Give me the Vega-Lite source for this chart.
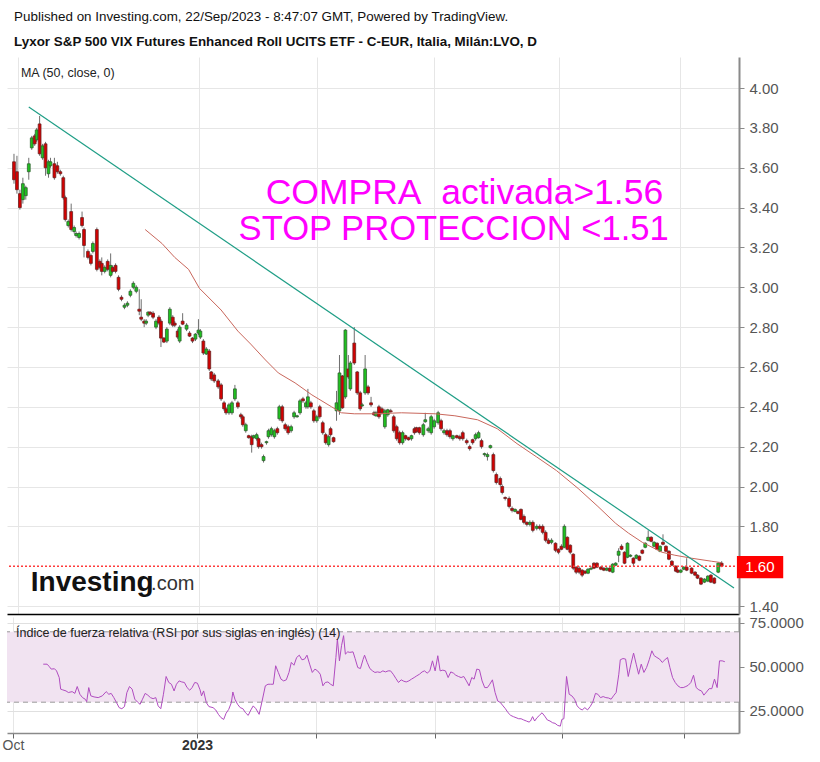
{
"$schema":"https://vega.github.io/schema/vega-lite/v6.json",
"background":"white",
"padding":{"left":2,"right":0,"top":10,"bottom":4},
"title":{"text":"Published on Investing.com, 22/Sep/2023 - 8:47:07 GMT, Powered by TradingView.","subtitle":"Lyxor S&P 500 VIX Futures Enhanced Roll UCITS ETF - C-EUR, Italia, Milán:LVO, D","anchor":"start","dx":12,"font":"Liberation Sans","fontSize":13.4,"fontWeight":"normal","color":"#111","subtitleFont":"Liberation Sans","subtitleFontSize":13.4,"subtitleFontWeight":"bold","subtitleColor":"#111","subtitlePadding":11,"offset":9},
"config":{"view":{"stroke":null},"font":"Liberation Sans","axis":{"labelFont":"Liberation Sans"}},
"spacing":0,
"datasets":{
"candles":[
{"t":0,"o":3.63,"h":3.67,"l":3.52,"c":3.54},{"t":1.02,"o":3.58,"h":3.66,"l":3.47,"c":3.49},{"t":2.03,"o":3.47,"h":3.49,"l":3.39,"c":3.40},{"t":3.05,"o":3.44,"h":3.55,"l":3.42,"c":3.52},{"t":4.06,"o":3.46,"h":3.51,"l":3.44,"c":3.50},{"t":5.08,"o":3.58,"h":3.65,"l":3.54,"c":3.62},{"t":6.10,"o":3.70,"h":3.76,"l":3.69,"c":3.75},{"t":7.11,"o":3.76,"h":3.77,"l":3.71,"c":3.72},{"t":7.79,"o":3.74,"h":3.80,"l":3.73,"c":3.79},{"t":8.80,"o":3.82,"h":3.86,"l":3.66,"c":3.67},
{"t":9.82,"o":3.65,"h":3.72,"l":3.64,"c":3.71},{"t":10.84,"o":3.72,"h":3.73,"l":3.56,"c":3.60},{"t":11.85,"o":3.57,"h":3.64,"l":3.55,"c":3.63},{"t":12.53,"o":3.61,"h":3.65,"l":3.60,"c":3.63},{"t":13.88,"o":3.62,"h":3.65,"l":3.54,"c":3.55},{"t":14.90,"o":3.61,"h":3.63,"l":3.57,"c":3.58},{"t":15.92,"o":3.58,"h":3.59,"l":3.56,"c":3.57},{"t":16.93,"o":3.55,"h":3.56,"l":3.44,"c":3.45},{"t":17.61,"o":3.45,"h":3.46,"l":3.33,"c":3.34},{"t":18.63,"o":3.31,"h":3.34,"l":3.30,"c":3.33},
{"t":19.64,"o":3.38,"h":3.42,"l":3.28,"c":3.29},{"t":20.66,"o":3.28,"h":3.31,"l":3.27,"c":3.30},{"t":21.33,"o":3.26,"h":3.28,"l":3.25,"c":3.27},{"t":22.35,"o":3.25,"h":3.28,"l":3.24,"c":3.27},{"t":23.37,"o":3.35,"h":3.38,"l":3.30,"c":3.31},{"t":24.04,"o":3.29,"h":3.30,"l":3.15,"c":3.21},{"t":25.40,"o":3.18,"h":3.19,"l":3.14,"c":3.15},{"t":26.41,"o":3.16,"h":3.17,"l":3.11,"c":3.12},{"t":27.09,"o":3.18,"h":3.23,"l":3.17,"c":3.22},{"t":28.45,"o":3.29,"h":3.30,"l":3.08,"c":3.09},
{"t":29.46,"o":3.13,"h":3.14,"l":3.09,"c":3.10},{"t":30.14,"o":3.12,"h":3.15,"l":3.06,"c":3.08},{"t":31.15,"o":3.08,"h":3.11,"l":3.07,"c":3.10},{"t":32.17,"o":3.13,"h":3.14,"l":3.08,"c":3.09},{"t":33.19,"o":3.06,"h":3.17,"l":3.05,"c":3.11},{"t":33.86,"o":3.10,"h":3.11,"l":3.07,"c":3.08},{"t":34.88,"o":3.11,"h":3.12,"l":3.07,"c":3.08},{"t":35.90,"o":3.05,"h":3.06,"l":2.98,"c":2.99},{"t":36.91,"o":2.95,"h":2.96,"l":2.93,"c":2.94},{"t":37.93,"o":2.90,"h":2.92,"l":2.89,"c":2.91},
{"t":38.94,"o":2.91,"h":2.93,"l":2.90,"c":2.92},{"t":39.96,"o":2.96,"h":2.99,"l":2.95,"c":2.98},{"t":40.98,"o":3.00,"h":3.03,"l":2.99,"c":3.02},{"t":41.99,"o":2.98,"h":3.01,"l":2.97,"c":3.00},{"t":43.01,"o":2.89,"h":2.99,"l":2.86,"c":2.88},{"t":43.68,"o":2.85,"h":2.94,"l":2.83,"c":2.84},{"t":44.70,"o":2.83,"h":2.84,"l":2.80,"c":2.82},{"t":45.38,"o":2.82,"h":2.84,"l":2.81,"c":2.83},{"t":46.06,"o":2.86,"h":2.88,"l":2.85,"c":2.875},{"t":46.73,"o":2.875,"h":2.88,"l":2.86,"c":2.865},
{"t":47.75,"o":2.87,"h":2.88,"l":2.84,"c":2.85},{"t":48.76,"o":2.80,"h":2.84,"l":2.79,"c":2.83},{"t":49.78,"o":2.85,"h":2.86,"l":2.81,"c":2.82},{"t":50.46,"o":2.83,"h":2.84,"l":2.70,"c":2.745},{"t":51.47,"o":2.745,"h":2.75,"l":2.72,"c":2.725},{"t":52.49,"o":2.73,"h":2.80,"l":2.72,"c":2.79},{"t":53.51,"o":2.82,"h":2.90,"l":2.81,"c":2.89},{"t":54.52,"o":2.85,"h":2.86,"l":2.80,"c":2.81},{"t":55.20,"o":2.82,"h":2.83,"l":2.80,"c":2.81},{"t":56.21,"o":2.78,"h":2.79,"l":2.74,"c":2.75},
{"t":56.89,"o":2.73,"h":2.81,"l":2.72,"c":2.80},{"t":57.91,"o":2.83,"h":2.87,"l":2.81,"c":2.815},{"t":59.26,"o":2.79,"h":2.82,"l":2.78,"c":2.81},{"t":60.28,"o":2.77,"h":2.78,"l":2.75,"c":2.755},{"t":61.29,"o":2.745,"h":2.75,"l":2.72,"c":2.73},{"t":62.31,"o":2.74,"h":2.77,"l":2.73,"c":2.765},{"t":63.33,"o":2.77,"h":2.84,"l":2.76,"c":2.785},{"t":64.00,"o":2.75,"h":2.79,"l":2.74,"c":2.78},{"t":65.02,"o":2.73,"h":2.74,"l":2.66,"c":2.67},{"t":66.03,"o":2.665,"h":2.70,"l":2.66,"c":2.69},
{"t":67.05,"o":2.68,"h":2.69,"l":2.58,"c":2.59},{"t":67.73,"o":2.575,"h":2.58,"l":2.53,"c":2.54},{"t":68.74,"o":2.56,"h":2.57,"l":2.52,"c":2.53},{"t":70.10,"o":2.53,"h":2.54,"l":2.49,"c":2.50},{"t":71.11,"o":2.51,"h":2.52,"l":2.43,"c":2.44},{"t":72.13,"o":2.42,"h":2.43,"l":2.38,"c":2.39},{"t":72.81,"o":2.39,"h":2.40,"l":2.36,"c":2.37},{"t":73.82,"o":2.37,"h":2.42,"l":2.36,"c":2.41},{"t":74.84,"o":2.37,"h":2.43,"l":2.36,"c":2.42},{"t":75.85,"o":2.44,"h":2.51,"l":2.43,"c":2.49},
{"t":76.87,"o":2.42,"h":2.43,"l":2.39,"c":2.40},{"t":77.89,"o":2.36,"h":2.37,"l":2.34,"c":2.35},{"t":78.56,"o":2.35,"h":2.36,"l":2.30,"c":2.31},{"t":79.58,"o":2.28,"h":2.32,"l":2.27,"c":2.31},{"t":80.60,"o":2.255,"h":2.26,"l":2.24,"c":2.245},{"t":81.61,"o":2.25,"h":2.26,"l":2.17,"c":2.21},{"t":82.29,"o":2.245,"h":2.26,"l":2.24,"c":2.255},{"t":83.31,"o":2.24,"h":2.27,"l":2.23,"c":2.26},{"t":83.98,"o":2.24,"h":2.25,"l":2.19,"c":2.20},{"t":85.00,"o":2.21,"h":2.22,"l":2.19,"c":2.20},
{"t":85.68,"o":2.13,"h":2.16,"l":2.12,"c":2.15},{"t":86.69,"o":2.22,"h":2.23,"l":2.21,"c":2.225},{"t":87.37,"o":2.25,"h":2.29,"l":2.24,"c":2.28},{"t":88.38,"o":2.26,"h":2.30,"l":2.25,"c":2.29},{"t":89.40,"o":2.25,"h":2.29,"l":2.24,"c":2.28},{"t":90.42,"o":2.29,"h":2.30,"l":2.26,"c":2.27},{"t":91.09,"o":2.34,"h":2.41,"l":2.33,"c":2.40},{"t":92.11,"o":2.40,"h":2.41,"l":2.32,"c":2.33},{"t":93.13,"o":2.31,"h":2.32,"l":2.28,"c":2.29},{"t":94.14,"o":2.30,"h":2.31,"l":2.26,"c":2.27},
{"t":95.16,"o":2.28,"h":2.31,"l":2.27,"c":2.30},{"t":96.17,"o":2.35,"h":2.38,"l":2.34,"c":2.37},{"t":97.19,"o":2.35,"h":2.36,"l":2.345,"c":2.355},{"t":98.21,"o":2.37,"h":2.44,"l":2.36,"c":2.43},{"t":99.22,"o":2.44,"h":2.45,"l":2.42,"c":2.43},{"t":100.24,"o":2.40,"h":2.43,"l":2.39,"c":2.42},{"t":100.91,"o":2.40,"h":2.49,"l":2.39,"c":2.45},{"t":101.93,"o":2.42,"h":2.43,"l":2.39,"c":2.40},{"t":102.95,"o":2.38,"h":2.39,"l":2.32,"c":2.33},{"t":103.96,"o":2.33,"h":2.36,"l":2.32,"c":2.35},
{"t":104.98,"o":2.40,"h":2.41,"l":2.34,"c":2.35},{"t":106.00,"o":2.32,"h":2.33,"l":2.26,"c":2.27},{"t":107.01,"o":2.26,"h":2.27,"l":2.21,"c":2.22},{"t":108.03,"o":2.21,"h":2.26,"l":2.20,"c":2.25},{"t":108.70,"o":2.29,"h":2.30,"l":2.25,"c":2.26},{"t":109.72,"o":2.245,"h":2.25,"l":2.22,"c":2.225},{"t":110.74,"o":2.38,"h":2.48,"l":2.33,"c":2.42},{"t":111.75,"o":2.38,"h":2.66,"l":2.36,"c":2.57},{"t":112.77,"o":2.555,"h":2.56,"l":2.39,"c":2.395},{"t":113.78,"o":2.45,"h":2.79,"l":2.44,"c":2.785},
{"t":114.80,"o":2.59,"h":2.66,"l":2.54,"c":2.55},{"t":115.48,"o":2.49,"h":2.63,"l":2.48,"c":2.62},{"t":116.83,"o":2.72,"h":2.80,"l":2.61,"c":2.62},{"t":117.85,"o":2.575,"h":2.58,"l":2.46,"c":2.47},{"t":118.86,"o":2.47,"h":2.48,"l":2.38,"c":2.39},{"t":119.54,"o":2.405,"h":2.42,"l":2.40,"c":2.41},{"t":120.56,"o":2.47,"h":2.66,"l":2.46,"c":2.59},{"t":121.57,"o":2.50,"h":2.51,"l":2.46,"c":2.47},{"t":122.59,"o":2.42,"h":2.45,"l":2.40,"c":2.41},{"t":123.60,"o":2.37,"h":2.38,"l":2.355,"c":2.36},
{"t":124.28,"o":2.355,"h":2.38,"l":2.35,"c":2.37},{"t":125.30,"o":2.40,"h":2.41,"l":2.34,"c":2.35},{"t":126.31,"o":2.39,"h":2.40,"l":2.36,"c":2.37},{"t":127.33,"o":2.30,"h":2.39,"l":2.29,"c":2.38},{"t":128.34,"o":2.36,"h":2.39,"l":2.35,"c":2.385},{"t":129.36,"o":2.38,"h":2.39,"l":2.37,"c":2.375},{"t":130.38,"o":2.35,"h":2.36,"l":2.27,"c":2.28},{"t":131.39,"o":2.30,"h":2.31,"l":2.23,"c":2.24},{"t":132.41,"o":2.27,"h":2.28,"l":2.21,"c":2.22},{"t":133.42,"o":2.22,"h":2.28,"l":2.21,"c":2.27},
{"t":134.44,"o":2.255,"h":2.26,"l":2.23,"c":2.24},{"t":135.46,"o":2.245,"h":2.25,"l":2.23,"c":2.235},{"t":136.47,"o":2.24,"h":2.26,"l":2.23,"c":2.255},{"t":137.49,"o":2.29,"h":2.30,"l":2.26,"c":2.27},{"t":138.17,"o":2.295,"h":2.30,"l":2.27,"c":2.275},{"t":139.18,"o":2.295,"h":2.30,"l":2.26,"c":2.27},{"t":140.54,"o":2.26,"h":2.32,"l":2.25,"c":2.31},{"t":141.21,"o":2.325,"h":2.37,"l":2.32,"c":2.335},{"t":142.23,"o":2.28,"h":2.30,"l":2.27,"c":2.29},{"t":143.24,"o":2.27,"h":2.36,"l":2.26,"c":2.35},
{"t":144.26,"o":2.30,"h":2.34,"l":2.29,"c":2.33},{"t":145.62,"o":2.32,"h":2.38,"l":2.31,"c":2.37},{"t":146.63,"o":2.33,"h":2.34,"l":2.28,"c":2.29},{"t":147.65,"o":2.27,"h":2.29,"l":2.26,"c":2.28},{"t":148.66,"o":2.28,"h":2.29,"l":2.25,"c":2.26},{"t":149.68,"o":2.28,"h":2.29,"l":2.24,"c":2.25},{"t":150.69,"o":2.24,"h":2.26,"l":2.23,"c":2.255},{"t":152.05,"o":2.255,"h":2.26,"l":2.24,"c":2.245},{"t":153.07,"o":2.25,"h":2.26,"l":2.23,"c":2.24},{"t":154.08,"o":2.27,"h":2.28,"l":2.23,"c":2.24},
{"t":155.44,"o":2.23,"h":2.24,"l":2.21,"c":2.22},{"t":156.45,"o":2.20,"h":2.21,"l":2.18,"c":2.19},{"t":157.47,"o":2.235,"h":2.24,"l":2.21,"c":2.22},{"t":158.48,"o":2.24,"h":2.27,"l":2.23,"c":2.26},{"t":159.50,"o":2.245,"h":2.28,"l":2.24,"c":2.27},{"t":160.52,"o":2.23,"h":2.24,"l":2.19,"c":2.20},{"t":161.53,"o":2.16,"h":2.17,"l":2.15,"c":2.165},{"t":162.55,"o":2.15,"h":2.17,"l":2.13,"c":2.16},{"t":163.56,"o":2.195,"h":2.21,"l":2.19,"c":2.205},{"t":164.58,"o":2.16,"h":2.17,"l":2.07,"c":2.08},
{"t":165.60,"o":2.06,"h":2.07,"l":2.01,"c":2.02},{"t":166.95,"o":2.04,"h":2.05,"l":2.00,"c":2.01},{"t":167.63,"o":2.00,"h":2.01,"l":1.96,"c":1.97},{"t":168.64,"o":1.945,"h":1.95,"l":1.93,"c":1.94},{"t":170.00,"o":1.94,"h":1.95,"l":1.89,"c":1.90},{"t":171.01,"o":1.89,"h":1.90,"l":1.87,"c":1.88},{"t":172.03,"o":1.875,"h":1.89,"l":1.87,"c":1.885},{"t":173.05,"o":1.875,"h":1.88,"l":1.86,"c":1.865},{"t":174.06,"o":1.885,"h":1.89,"l":1.83,"c":1.835},{"t":175.08,"o":1.85,"h":1.86,"l":1.81,"c":1.82},
{"t":176.09,"o":1.82,"h":1.825,"l":1.80,"c":1.81},{"t":177.11,"o":1.81,"h":1.83,"l":1.80,"c":1.82},{"t":178.13,"o":1.82,"h":1.83,"l":1.77,"c":1.78},{"t":179.48,"o":1.79,"h":1.81,"l":1.78,"c":1.80},{"t":180.49,"o":1.80,"h":1.81,"l":1.78,"c":1.79},{"t":181.51,"o":1.80,"h":1.81,"l":1.76,"c":1.77},{"t":182.53,"o":1.77,"h":1.78,"l":1.72,"c":1.73},{"t":183.54,"o":1.73,"h":1.74,"l":1.71,"c":1.715},{"t":184.56,"o":1.72,"h":1.74,"l":1.71,"c":1.73},{"t":185.91,"o":1.715,"h":1.72,"l":1.67,"c":1.68},
{"t":186.93,"o":1.685,"h":1.69,"l":1.66,"c":1.67},{"t":187.95,"o":1.70,"h":1.71,"l":1.68,"c":1.685},{"t":188.96,"o":1.695,"h":1.81,"l":1.69,"c":1.80},{"t":189.98,"o":1.745,"h":1.75,"l":1.68,"c":1.685},{"t":190.99,"o":1.705,"h":1.71,"l":1.66,"c":1.67},{"t":192.01,"o":1.66,"h":1.665,"l":1.58,"c":1.59},{"t":193.02,"o":1.595,"h":1.60,"l":1.56,"c":1.57},{"t":194.04,"o":1.59,"h":1.60,"l":1.56,"c":1.57},{"t":195.06,"o":1.58,"h":1.585,"l":1.545,"c":1.555},{"t":196.07,"o":1.575,"h":1.58,"l":1.56,"c":1.565},
{"t":197.09,"o":1.565,"h":1.59,"l":1.56,"c":1.585},{"t":198.10,"o":1.585,"h":1.60,"l":1.58,"c":1.59},{"t":199.12,"o":1.615,"h":1.62,"l":1.585,"c":1.59},{"t":200.14,"o":1.615,"h":1.62,"l":1.59,"c":1.595},{"t":201.49,"o":1.595,"h":1.60,"l":1.58,"c":1.585},{"t":202.51,"o":1.59,"h":1.595,"l":1.575,"c":1.58},{"t":203.52,"o":1.58,"h":1.595,"l":1.575,"c":1.59},{"t":204.54,"o":1.59,"h":1.595,"l":1.57,"c":1.575},{"t":205.55,"o":1.57,"h":1.615,"l":1.565,"c":1.61},{"t":206.57,"o":1.605,"h":1.62,"l":1.60,"c":1.615},
{"t":207.59,"o":1.655,"h":1.69,"l":1.62,"c":1.675},{"t":208.60,"o":1.70,"h":1.71,"l":1.68,"c":1.685},{"t":209.62,"o":1.67,"h":1.675,"l":1.61,"c":1.615},{"t":210.63,"o":1.645,"h":1.72,"l":1.64,"c":1.715},{"t":211.65,"o":1.65,"h":1.66,"l":1.645,"c":1.655},{"t":212.66,"o":1.64,"h":1.645,"l":1.60,"c":1.615},{"t":213.68,"o":1.64,"h":1.66,"l":1.635,"c":1.655},{"t":214.70,"o":1.65,"h":1.655,"l":1.625,"c":1.63},{"t":215.71,"o":1.68,"h":1.685,"l":1.66,"c":1.665},{"t":216.73,"o":1.695,"h":1.72,"l":1.69,"c":1.715},
{"t":217.74,"o":1.73,"h":1.78,"l":1.725,"c":1.745},{"t":218.76,"o":1.745,"h":1.75,"l":1.72,"c":1.725},{"t":219.78,"o":1.70,"h":1.725,"l":1.695,"c":1.72},{"t":220.79,"o":1.715,"h":1.72,"l":1.68,"c":1.685},{"t":221.81,"o":1.675,"h":1.705,"l":1.67,"c":1.70},{"t":222.82,"o":1.72,"h":1.76,"l":1.705,"c":1.71},{"t":223.84,"o":1.70,"h":1.705,"l":1.67,"c":1.675},{"t":224.86,"o":1.675,"h":1.68,"l":1.63,"c":1.635},{"t":225.87,"o":1.625,"h":1.63,"l":1.60,"c":1.605},{"t":227.23,"o":1.60,"h":1.605,"l":1.57,"c":1.575},
{"t":227.90,"o":1.58,"h":1.585,"l":1.565,"c":1.57},{"t":228.92,"o":1.57,"h":1.585,"l":1.565,"c":1.58},{"t":229.94,"o":1.585,"h":1.60,"l":1.58,"c":1.595},{"t":230.95,"o":1.595,"h":1.64,"l":1.575,"c":1.58},{"t":232.65,"o":1.59,"h":1.595,"l":1.56,"c":1.565},{"t":233.83,"o":1.57,"h":1.575,"l":1.55,"c":1.555},{"t":234.68,"o":1.555,"h":1.56,"l":1.535,"c":1.54},{"t":235.86,"o":1.54,"h":1.545,"l":1.505,"c":1.51},{"t":237.05,"o":1.52,"h":1.54,"l":1.515,"c":1.535},{"t":238.23,"o":1.525,"h":1.555,"l":1.52,"c":1.55},
{"t":239.25,"o":1.555,"h":1.56,"l":1.515,"c":1.52},{"t":240.43,"o":1.54,"h":1.545,"l":1.51,"c":1.515},{"t":241.79,"o":1.57,"h":1.62,"l":1.565,"c":1.615},{"t":242.97,"o":1.615,"h":1.625,"l":1.595,"c":1.60}
],
"ma":[
{"t":45.04,"p":3.29},{"t":50.80,"p":3.22},{"t":55.20,"p":3.15},{"t":59.94,"p":3.09},{"t":63.66,"p":2.995},{"t":71.11,"p":2.886},{"t":76.87,"p":2.78},{"t":81.27,"p":2.715},{"t":86.35,"p":2.635},{"t":90.76,"p":2.57},{"t":96.51,"p":2.52},{"t":102.27,"p":2.46},{"t":109.04,"p":2.40},{"t":112.43,"p":2.37},{"t":116.83,"p":2.365},{"t":123.60,"p":2.365},{"t":133.09,"p":2.37},{"t":144.60,"p":2.365},{"t":151.37,"p":2.355},{"t":159.16,"p":2.335},{"t":165.93,"p":2.29},{"t":172.71,"p":2.215},{"t":179.48,"p":2.148},{"t":186.25,"p":2.08},{"t":193.70,"p":1.99},{"t":200.47,"p":1.90},{"t":206.57,"p":1.815},{"t":210.97,"p":1.766},{"t":215.71,"p":1.72},{"t":222.48,"p":1.67},{"t":226.89,"p":1.655},{"t":232.65,"p":1.64},{"t":239.42,"p":1.625},{"t":242.80,"p":1.618}
],
"trend":[{"t":5.08,"p":3.905},{"t":247.2,"p":1.49}],
"rsi":[
{"t":11.6,"v":51.6},{"t":12.9,"v":51.6},{"t":13.6,"v":50.3},{"t":14.3,"v":48.8},{"t":15.4,"v":49},{"t":16.1,"v":47.8},{"t":17.0,"v":44},{"t":17.5,"v":37.4},{"t":18.2,"v":37},{"t":19.3,"v":36.4},{"t":20.1,"v":35.5},{"t":21.4,"v":36},{"t":22.3,"v":35},{"t":23.1,"v":38.9},{"t":24.0,"v":34.5},{"t":24.9,"v":32.6},{"t":25.8,"v":31.7},{"t":26.3,"v":30.3},{"t":27.0,"v":38.3},{"t":27.7,"v":33.6},{"t":28.8,"v":33},{"t":30.2,"v":32.6},{"t":31.6,"v":33.6},{"t":32.9,"v":36},{"t":33.8,"v":34.5},{"t":34.6,"v":35},{"t":35.5,"v":32.6},{"t":36.4,"v":29.8},{"t":37.3,"v":26.9},{"t":38.2,"v":26.3},{"t":39.1,"v":27.5},{"t":39.9,"v":35.4},{"t":40.8,"v":38.9},{"t":41.7,"v":37.4},{"t":42.6,"v":31.7},{"t":43.5,"v":30.1},{"t":44.4,"v":28.8},{"t":45.2,"v":31.7},{"t":46.1,"v":35},{"t":47.0,"v":34},{"t":47.9,"v":32.6},{"t":48.8,"v":32},{"t":49.7,"v":32.6},{"t":50.5,"v":27.9},{"t":51.4,"v":26.3},{"t":52.3,"v":34.5},{"t":53.2,"v":44.6},{"t":54.1,"v":41.2},{"t":55.0,"v":40.2},{"t":55.9,"v":36.4},{"t":56.7,"v":40.2},{"t":57.6,"v":42.1},{"t":58.5,"v":41.5},{"t":59.4,"v":41.2},{"t":60.3,"v":38.3},{"t":61.2,"v":36.8},{"t":62.0,"v":38.3},{"t":62.9,"v":41.2},{"t":63.8,"v":40.8},{"t":64.7,"v":37},{"t":65.2,"v":33.6},{"t":65.9,"v":36.4},{"t":66.8,"v":29.8},{"t":67.7,"v":27.5},{"t":69.1,"v":26.9},{"t":70.0,"v":25.6},{"t":70.9,"v":23.1},{"t":71.8,"v":21.2},{"t":72.7,"v":20.2},{"t":73.5,"v":23.7},{"t":74.4,"v":25.9},{"t":75.3,"v":29.8},{"t":75.8,"v":35.8},{"t":76.5,"v":31.7},{"t":77.4,"v":28.8},{"t":78.3,"v":26.9},{"t":79.2,"v":26.3},{"t":80.1,"v":24},{"t":81.0,"v":22.5},{"t":81.9,"v":25.6},{"t":82.7,"v":27.9},{"t":83.6,"v":26.3},{"t":84.7,"v":23.1},{"t":85.6,"v":29.8},{"t":86.8,"v":39.3},{"t":87.7,"v":40.2},{"t":88.6,"v":40.2},{"t":89.5,"v":40.2},{"t":90.3,"v":50.7},{"t":91.2,"v":46.9},{"t":92.1,"v":43.1},{"t":93.0,"v":42.1},{"t":93.9,"v":42.7},{"t":94.8,"v":46.9},{"t":95.6,"v":52.6},{"t":96.5,"v":51},{"t":97.4,"v":55.4},{"t":98.3,"v":56.7},{"t":99.2,"v":54.1},{"t":100.1,"v":54.5},{"t":100.9,"v":56.7},{"t":101.8,"v":51.6},{"t":102.7,"v":46.9},{"t":103.6,"v":48.8},{"t":104.5,"v":47.8},{"t":105.4,"v":45.9},{"t":106.3,"v":39.3},{"t":107.1,"v":41.2},{"t":108.0,"v":41.5},{"t":108.9,"v":40.2},{"t":109.8,"v":39.3},{"t":110.7,"v":55.4},{"t":111.2,"v":65.9},{"t":111.9,"v":53.5},{"t":112.6,"v":62.1},{"t":113.3,"v":67.8},{"t":113.9,"v":57.3},{"t":114.7,"v":58.6},{"t":115.4,"v":58.3},{"t":116.5,"v":58.6},{"t":117.2,"v":54.8},{"t":118.1,"v":49.7},{"t":119.0,"v":49.1},{"t":119.9,"v":54.3},{"t":120.4,"v":56.7},{"t":121.3,"v":52.6},{"t":122.2,"v":49.1},{"t":123.1,"v":47.8},{"t":123.9,"v":46.9},{"t":124.8,"v":47.2},{"t":125.7,"v":46.9},{"t":126.6,"v":47.8},{"t":127.5,"v":47.2},{"t":128.4,"v":47.8},{"t":129.2,"v":47.8},{"t":130.1,"v":45.9},{"t":131.0,"v":43.5},{"t":131.9,"v":41.2},{"t":132.8,"v":42.7},{"t":133.7,"v":41.9},{"t":134.5,"v":41.5},{"t":135.4,"v":42.1},{"t":136.3,"v":43.1},{"t":137.2,"v":44},{"t":138.1,"v":45},{"t":139.0,"v":45.9},{"t":139.9,"v":47.2},{"t":140.7,"v":47.8},{"t":141.6,"v":46.5},{"t":142.5,"v":47.8},{"t":143.4,"v":53.5},{"t":144.3,"v":47.8},{"t":145.2,"v":56.4},{"t":146.0,"v":47.8},{"t":146.9,"v":48.2},{"t":147.8,"v":47.8},{"t":148.7,"v":44},{"t":149.6,"v":47.2},{"t":150.5,"v":46.5},{"t":151.3,"v":45.3},{"t":152.2,"v":44.6},{"t":153.1,"v":44},{"t":154.0,"v":44.6},{"t":154.9,"v":42.1},{"t":155.8,"v":39.3},{"t":156.7,"v":44},{"t":157.5,"v":43.1},{"t":158.4,"v":48.8},{"t":159.3,"v":48.4},{"t":160.2,"v":42.1},{"t":161.1,"v":38.3},{"t":162.0,"v":38.3},{"t":162.8,"v":40.2},{"t":163.7,"v":42.7},{"t":164.6,"v":35.5},{"t":165.5,"v":30.7},{"t":166.4,"v":29.8},{"t":167.3,"v":27.9},{"t":168.1,"v":26.3},{"t":169.0,"v":24},{"t":169.9,"v":22.5},{"t":170.8,"v":21.8},{"t":171.7,"v":21.2},{"t":172.6,"v":20.6},{"t":173.4,"v":20.6},{"t":174.3,"v":19.9},{"t":175.2,"v":19.3},{"t":176.1,"v":18.7},{"t":176.6,"v":19.3},{"t":177.3,"v":21.8},{"t":178.0,"v":19.3},{"t":178.8,"v":21.2},{"t":179.6,"v":22.5},{"t":180.5,"v":24},{"t":181.4,"v":22.1},{"t":182.3,"v":19.9},{"t":183.2,"v":19.3},{"t":184.1,"v":18.3},{"t":184.9,"v":18},{"t":185.8,"v":16.8},{"t":186.7,"v":16.4},{"t":187.2,"v":20.2},{"t":187.9,"v":20.6},{"t":188.8,"v":44.6},{"t":189.7,"v":34.5},{"t":190.6,"v":33.6},{"t":191.5,"v":31.7},{"t":192.4,"v":27.9},{"t":193.3,"v":26.3},{"t":194.1,"v":25.6},{"t":195.0,"v":26.9},{"t":195.9,"v":25.6},{"t":196.8,"v":27.5},{"t":197.7,"v":30.1},{"t":198.6,"v":35},{"t":199.4,"v":34.5},{"t":200.3,"v":32.6},{"t":201.2,"v":33.2},{"t":202.1,"v":32.6},{"t":203.0,"v":32.4},{"t":203.9,"v":31.7},{"t":204.7,"v":33.6},{"t":205.6,"v":35.5},{"t":206.5,"v":45.9},{"t":207.0,"v":54.1},{"t":207.9,"v":54.8},{"t":208.8,"v":54.5},{"t":209.7,"v":44.6},{"t":210.6,"v":51.6},{"t":211.5,"v":57.9},{"t":212.4,"v":51.6},{"t":213.2,"v":45.9},{"t":214.1,"v":51.6},{"t":215.0,"v":46.9},{"t":215.9,"v":49.7},{"t":216.8,"v":54.1},{"t":217.7,"v":59.2},{"t":218.5,"v":56.4},{"t":219.4,"v":55.4},{"t":220.3,"v":54.5},{"t":221.2,"v":52.6},{"t":222.1,"v":54.1},{"t":223.0,"v":55.4},{"t":223.8,"v":49.7},{"t":224.7,"v":44},{"t":225.6,"v":41.2},{"t":226.5,"v":39.3},{"t":227.4,"v":38.3},{"t":228.3,"v":38.3},{"t":229.2,"v":38.9},{"t":230.0,"v":39.6},{"t":230.9,"v":41.2},{"t":231.8,"v":45.3},{"t":232.7,"v":38.3},{"t":233.6,"v":37},{"t":234.5,"v":36.4},{"t":235.3,"v":34},{"t":236.2,"v":35.8},{"t":237.1,"v":37.7},{"t":238.0,"v":37.7},{"t":238.9,"v":43.1},{"t":239.8,"v":38.3},{"t":240.6,"v":53.5},{"t":241.5,"v":53.5},{"t":242.4,"v":53}
]
},
"vconcat":[
{
"width":732,"height":557,
"layer":[
{"data":{"name":"candles"},"mark":{"type":"rule","color":"#6e6e6e","strokeWidth":1},
 "encoding":{
  "x":{"field":"t","type":"quantitative","scale":{"domain":[-0.68,247.2],"nice":false,"zero":false},
   "axis":{"orient":"bottom","values":[1.35,63.66,103.96,144.26,187.26,228.58],"labels":false,"ticks":false,"grid":true,"gridColor":"#e6e6e6","domain":true,"domainColor":"#000","domainWidth":1.5,"title":null}},
  "y":{"field":"l","type":"quantitative","scale":{"domain":[1.36,4.156],"nice":false,"zero":false},
   "axis":{"orient":"right","values":[1.4,1.8,2.0,2.2,2.4,2.6,2.8,3.0,3.2,3.4,3.6,3.8,4.0],"format":".2f","grid":true,"gridColor":"#e6e6e6","domainColor":"#8a8a8a","domainWidth":2,"tickColor":"#8a8a8a","tickSize":5,"labelColor":"#555","labelFontSize":15,"labelPadding":5,"title":null}},
  "y2":{"field":"h"}}},
{"data":{"name":"candles"},"mark":{"type":"bar","size":2.8,"strokeWidth":0.8},
 "encoding":{
  "x":{"field":"t","type":"quantitative"},
  "y":{"field":"o","type":"quantitative"},
  "y2":{"field":"c"},
  "fill":{"condition":{"test":"datum.c >= datum.o","value":"#1fc21f"},"value":"#d50000"},
  "stroke":{"condition":{"test":"datum.c >= datum.o","value":"#2f5f2f"},"value":"#6a2222"}}},
{"data":{"name":"ma"},"mark":{"type":"line","color":"#c9675c","strokeWidth":1},
 "encoding":{"x":{"field":"t","type":"quantitative"},"y":{"field":"p","type":"quantitative"}}},
{"data":{"name":"trend"},"mark":{"type":"line","color":"#1f9e86","strokeWidth":1.2},
 "encoding":{"x":{"field":"t","type":"quantitative"},"y":{"field":"p","type":"quantitative"}}},
{"data":{"values":[{"p":1.6}]},"mark":{"type":"rule","color":"#ff3b3b","strokeWidth":1.5,"strokeDash":[2,2]},
 "encoding":{"y":{"field":"p","type":"quantitative"}}},
{"data":{"values":[{"a":248.2,"b":264.1,"lo":1.54,"hi":1.651}]},"mark":{"type":"rect","color":"#ff0000"},
 "encoding":{"x":{"field":"a","type":"quantitative"},"x2":{"field":"b"},"y":{"field":"lo","type":"quantitative"},"y2":{"field":"hi"}}},
{"data":{"values":[{"t":256.1,"p":1.596,"s":"1.60"}]},"mark":{"type":"text","color":"white","fontSize":15,"align":"center","baseline":"middle"},
 "encoding":{"x":{"field":"t","type":"quantitative"},"y":{"field":"p","type":"quantitative"},"text":{"field":"s"}}},
{"data":{"values":[{"t":2.37,"p":4.075,"s":"MA (50, close, 0)"}]},"mark":{"type":"text","color":"#222","fontSize":12.5,"align":"left","baseline":"middle"},
 "encoding":{"x":{"field":"t","type":"quantitative"},"y":{"field":"p","type":"quantitative"},"text":{"field":"s"}}},
{"data":{"values":[{"t":222.9,"p":3.473,"s":"COMPRA\u00a0\u00a0activada>1.56"}]},"mark":{"type":"text","color":"#ff00ff","fontSize":35.5,"align":"right","baseline":"middle"},
 "encoding":{"x":{"field":"t","type":"quantitative"},"y":{"field":"p","type":"quantitative"},"text":{"field":"s"}}},
{"data":{"values":[{"t":224.8,"p":3.287,"s":"STOP PROTECCION <1.51"}]},"mark":{"type":"text","color":"#ff00ff","fontSize":34.6,"align":"right","baseline":"middle"},
 "encoding":{"x":{"field":"t","type":"quantitative"},"y":{"field":"p","type":"quantitative"},"text":{"field":"s"}}},
{"data":{"values":[{"t":5.76,"p":1.515,"s":"Investing"}]},"mark":{"type":"text","color":"#111","fontSize":28,"fontWeight":"bold","align":"left","baseline":"middle"},
 "encoding":{"x":{"field":"t","type":"quantitative"},"y":{"field":"p","type":"quantitative"},"text":{"field":"s"}}},
{"data":{"values":[{"t":47.07,"p":1.51,"s":".com"}]},"mark":{"type":"text","color":"#333","fontSize":20,"align":"left","baseline":"middle"},
 "encoding":{"x":{"field":"t","type":"quantitative"},"y":{"field":"p","type":"quantitative"},"text":{"field":"s"}}}
]
},
{
"width":732,"height":116,
"layer":[
{"data":{"values":[{"lo":30,"hi":70}]},"mark":{"type":"rect","color":"#f1e3f1"},
 "encoding":{"y":{"field":"lo","type":"quantitative","scale":{"domain":[12.5,78.4],"nice":false,"zero":false}},"y2":{"field":"hi"}}},
{"data":{"values":[{"v":30},{"v":70}]},"mark":{"type":"rule","color":"#9a9a9a","strokeWidth":1,"strokeDash":[5,4]},
 "encoding":{"y":{"field":"v","type":"quantitative"}}},
{"data":{"name":"rsi"},"mark":{"type":"line","color":"#b04cc0","strokeWidth":1},
 "encoding":{
  "x":{"field":"t","type":"quantitative","scale":{"domain":[-0.68,247.2],"nice":false,"zero":false},
   "axis":{"orient":"bottom","values":[1.35,63.66,103.96,144.26,187.26,228.58],"labelExpr":"datum.value < 10 ? 'Oct' : (datum.value < 80 ? '2023' : '')","labelFontSize":14,"labelColor":{"condition":{"test":"datum.value > 50 && datum.value < 80","value":"#333"},"value":"#555"},"labelFontWeight":{"condition":{"test":"datum.value > 50 && datum.value < 80","value":"bold"},"value":"normal"},"grid":true,"gridColor":"#e6e6e6","domainColor":"#8a8a8a","domainWidth":1.5,"tickColor":"#666","tickSize":5,"labelPadding":0,"title":null}},
  "y":{"field":"v","type":"quantitative","scale":{"domain":[12.5,78.4],"nice":false,"zero":false},
   "axis":{"orient":"right","values":[25,50,75],"format":".4f","grid":true,"gridColor":"#e0e0e0","domainColor":"#8a8a8a","domainWidth":2,"tickColor":"#8a8a8a","tickSize":5,"labelColor":"#555","labelFontSize":15,"labelPadding":5,"title":null}}}},
{"data":{"values":[{"t":2.37,"v":69.3,"s":"Índice de fuerza relativa (RSI por sus siglas en inglés) (14)"}]},"mark":{"type":"text","color":"#222","fontSize":12.5,"align":"left","baseline":"middle"},
 "encoding":{"x":{"field":"t","type":"quantitative"},"y":{"field":"v","type":"quantitative"},"text":{"field":"s"}}}
]
}
]
}
